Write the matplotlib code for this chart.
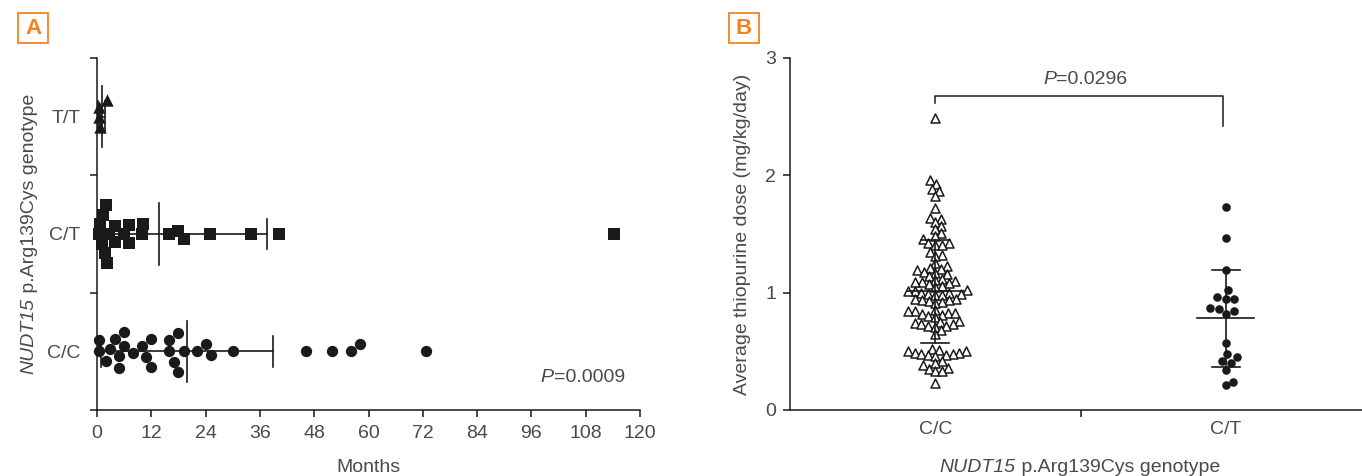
import matplotlib
matplotlib.use('Agg')
import matplotlib.pyplot as plt
from matplotlib.patches import Rectangle
import numpy as np

plt.rcParams['font.family'] = ['Liberation Sans Narrow', 'Liberation Sans', 'DejaVu Sans']

# ---- panel A: months by genotype ----
genotypes_a = ['C/C', 'C/T', 'T/T']
cc_months = [0.4, 0.4, 1.9, 2.9, 3.9, 4.9, 4.9, 6.0, 6.0, 8.0, 10.0, 10.9, 12.0, 12.0,
             15.9, 15.9, 17.0, 18.0, 18.0, 19.2, 22.0, 24.0, 25.1, 30.1,
             46.1, 52.0, 56.1, 58.1, 72.8]
ct_months = [0.4, 0.6, 1.0, 1.3, 1.7, 2.0, 2.3, 2.7, 3.9, 3.9, 6.0, 7.0, 7.1, 9.9, 10.1,
             15.9, 18.0, 19.2, 24.9, 34.0, 40.2, 114.2]
tt_months = [0.4, 0.5, 0.6, 2.2]
months_mean = [19.9, 13.6, 1.0]
months_sd = [19.1, 24.0, 0.73]
month_ticks = list(range(0, 121, 12))
p_months = '0.0009'

# ---- panel B: thiopurine dose by genotype ----
genotypes_b = ['C/C', 'C/T']
cc_dose = [2.49,
           1.96, 1.93, 1.88, 1.87, 1.82,
           1.72,
           1.64, 1.63, 1.60, 1.57,
           1.54, 1.51, 1.48, 1.46,
           1.42, 1.42, 1.41, 1.41,
           1.35, 1.32, 1.31,
           1.25, 1.23, 1.21, 1.20, 1.19, 1.18, 1.17, 1.16,
           1.14, 1.12, 1.11, 1.10, 1.09, 1.09, 1.08, 1.07, 1.06, 1.05,
           1.02, 1.01, 1.01, 1.00, 1.00, 0.99, 0.99, 0.98, 0.98,
           0.95, 0.95, 0.94, 0.94, 0.93, 0.92, 0.91,
           0.85, 0.84, 0.84, 0.83, 0.83, 0.82, 0.81, 0.80, 0.79,
           0.76, 0.75, 0.74, 0.73, 0.73, 0.72, 0.72, 0.71,
           0.68, 0.65,
           0.52, 0.51, 0.50, 0.50, 0.49, 0.49, 0.48, 0.48, 0.47, 0.47, 0.46,
           0.42, 0.40, 0.38, 0.36, 0.35, 0.33, 0.33,
           0.23]
ct_dose = [1.73, 1.47, 1.19, 1.02, 0.95, 0.95, 0.96, 0.86, 0.82, 0.84, 0.87,
           0.57, 0.48, 0.45, 0.42, 0.40, 0.34, 0.21, 0.24]
dose_mean = [1.01, 0.78]
dose_sd = [0.44, 0.41]
p_dose = '0.0296'

ORANGE = '#F5821F'
INK = '#1a1a1a'
TXT = '#4a4a4a'
W, H = 1362, 476


def px_scale(ax):
    t = ax.transData.transform
    p0, p1 = t((0, 0)), t((1, 1))
    return p1[0] - p0[0], p1[1] - p0[1]


def swarm_offsets(values, px_val, px_off, diam):
    # greedy beeswarm: each point goes to the smallest offset that does not overlap
    v = np.asarray(values, float) * px_val
    offs = np.zeros(len(v))
    placed = []
    for i in np.argsort(v, kind='stable'):
        near = [(p, o) for p, o in placed if abs(p - v[i]) < diam]
        cands = [0.0]
        for p, o in near:
            d = np.sqrt(diam ** 2 - (p - v[i]) ** 2)
            cands += [o + d, o - d]
        cands.sort(key=abs)
        for c in cands:
            if all((p - v[i]) ** 2 + (o - c) ** 2 >= diam ** 2 - 1e-6 for p, o in near):
                offs[i] = c
                break
        placed.append((v[i], offs[i]))
    return offs / px_off


def mixed_text(fig, xc, yc, parts, rotation=0, ha='center', **kw):
    # text made of (string, style) pieces laid along one baseline, in pixel coords
    r = fig.canvas.get_renderer()
    widths = []
    for s, st in parts:
        t = fig.text(0, 0, s, style=st, **kw)
        widths.append(t.get_window_extent(r).width)
        t.remove()
    total = sum(widths)
    pos = {'center': -total / 2, 'right': -total, 'left': 0}[ha]
    for (s, st), w in zip(parts, widths):
        if rotation == 90:
            x, y = xc, yc + pos
        else:
            x, y = xc + pos, yc
        fig.text(x / W, y / H, s, style=st, rotation=rotation, rotation_mode='anchor',
                 ha='left', va='center_baseline', **kw)
        pos += w


def style_axes(ax):
    for s in ['top', 'right']:
        ax.spines[s].set_visible(False)
    for s in ['left', 'bottom']:
        ax.spines[s].set_linewidth(1.1)
        ax.spines[s].set_color(INK)
    ax.tick_params(which='major', length=5, width=1.1, color=INK, labelcolor=TXT, labelsize=14)


fig = plt.figure(figsize=(W / 100, H / 100), dpi=100)

# panel A
axA = fig.add_axes([97 / W, 66 / H, 543 / W, 352 / H])
style_axes(axA)
axA.set_xlim(0, 120)
axA.set_ylim(0, 3)
axA.set_xticks(month_ticks)
axA.set_yticks([0, 1, 2, 3])
axA.set_yticklabels([])
axA.set_yticks([0.5, 1.5, 2.5], minor=True)
axA.set_yticklabels(genotypes_a, minor=True)
axA.tick_params(axis='y', which='minor', length=0, pad=12, labelcolor=TXT, labelsize=14)
axA.tick_params(axis='x', pad=6)
axA.set_xlabel('Months', fontsize=14, color=TXT, labelpad=12)

pxx, pxy = px_scale(axA)
groups_a = [(cc_months, 'o', 66, 11.5), (ct_months, 's', 64, 10.0), (tt_months, '^', 80, 10.0)]
for k, (vals, mk, sz, dia) in enumerate(groups_a):
    yc = k + 0.5
    off = swarm_offsets(vals, pxx, pxy, dia)
    axA.scatter(vals, yc + off, marker=mk, s=sz, color=INK, linewidths=0, zorder=3, clip_on=False)
    m, sd = months_mean[k], months_sd[k]
    axA.plot([m, m], [yc - 0.26, yc + 0.26], color=INK, lw=1.2, zorder=4)
    axA.plot([m - sd, m + sd], [yc, yc], color=INK, lw=1.2, zorder=4)
    for xe in (m - sd, m + sd):
        axA.plot([xe, xe], [yc - 0.13, yc + 0.13], color=INK, lw=1.2, zorder=4)

# panel B
axB = fig.add_axes([790 / W, 66 / H, 581 / W, 352 / H])
style_axes(axB)
axB.set_xlim(-0.5, 1.5)
axB.set_ylim(0, 3)
axB.set_yticks([0, 1, 2, 3])
axB.set_xticks([0.5, 1.5])
axB.set_xticklabels([])
axB.set_xticks([0, 1], minor=True)
axB.set_xticklabels(genotypes_b, minor=True)
axB.tick_params(axis='x', which='minor', length=0, pad=8, labelcolor=TXT, labelsize=14)
axB.tick_params(axis='y', pad=5)
axB.set_ylabel('Average thiopurine dose (mg/kg/day)', fontsize=14, color=TXT, labelpad=10)

pxx, pxy = px_scale(axB)
off = swarm_offsets(cc_dose, pxy, pxx, 7.0)
axB.scatter(0 + off, cc_dose, marker='^', s=42, facecolors='white', edgecolors=INK,
            linewidths=1.1, zorder=3, clip_on=False)
off = swarm_offsets(ct_dose, pxy, pxx, 8.5)
axB.scatter(1 + off, ct_dose, marker='o', s=38, color=INK, linewidths=0, zorder=3, clip_on=False)
for k in range(2):
    m, sd = dose_mean[k], dose_sd[k]
    axB.plot([k - 0.098, k + 0.098], [m, m], color=INK, lw=1.2, zorder=4)
    axB.plot([k, k], [m - sd, m + sd], color=INK, lw=1.2, zorder=4)
    for ye in (m - sd, m + sd):
        axB.plot([k - 0.048, k + 0.048], [ye, ye], color=INK, lw=1.2, zorder=4)

# significance bracket
axB.plot([0, 0, 0.99, 0.99], [2.62, 2.68, 2.68, 2.42], color=INK, lw=1.1)

# mixed italic / upright texts (pixel positions, y measured from bottom)
tkw = dict(fontsize=14, color=TXT)
gene_parts = [('NUDT15', 'italic'), (' p.Arg139Cys genotype', 'normal')]
mixed_text(fig, 27, H - 234, gene_parts, rotation=90, **tkw)
mixed_text(fig, 1080, H - 465, gene_parts, **tkw)
mixed_text(fig, 625, H - 375, [('P', 'italic'), ('=' + p_months, 'normal')], ha='right', **tkw)
mixed_text(fig, 1085, H - 77, [('P', 'italic'), ('=' + p_dose, 'normal')], **tkw)

# panel letters
for x0, letter in [(18, 'A'), (729, 'B')]:
    fig.add_artist(Rectangle((x0 / W, 1 - 43 / H), 30 / W, 30 / H, transform=fig.transFigure,
                             fill=False, ec=ORANGE, lw=1.3))
    fig.text((x0 + 15) / W, 1 - 28 / H, letter, ha='center', va='center', color=ORANGE,
             fontsize=16, fontweight='bold', family=['Liberation Sans', 'DejaVu Sans'])

fig.savefig('out.png', dpi=100)
